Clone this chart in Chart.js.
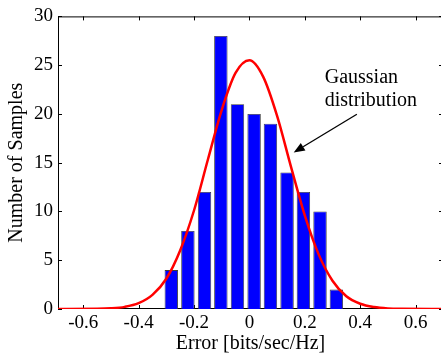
<!DOCTYPE html>
<html lang="en">
<head>
  <meta charset="UTF-8" />
  <title>Error histogram</title>
  <script src="https://cdn.jsdelivr.net/npm/chart.js"></script>
  <style>
    html, body { margin: 0; padding: 0; background: #fff; overflow: hidden; }
    #wrap { width: 441px; height: 356px; overflow: hidden; }
  </style>
</head>
<body>
  <div id="wrap">
    <canvas id="histChart" width="443" height="356"></canvas>
  </div>

  <script>
    // histogram bins (bin centres) and counts
    const binCentres = [-0.282, -0.222, -0.162, -0.103, -0.043, 0.017, 0.076, 0.136, 0.195, 0.255, 0.314];
    const counts     = [4, 8, 12, 28, 21, 20, 19, 14, 12, 10, 2];

    // fitted gaussian curve
    const curveX = [-0.7, -0.55, -0.5, -0.45, -0.4, -0.35, -0.3, -0.25, -0.2, -0.15, -0.1, -0.05, 0, 0.05, 0.1, 0.15, 0.2, 0.25, 0.3, 0.35, 0.4, 0.45, 0.5, 0.55, 0.7];
    const curveY = [0, 0.02, 0.07, 0.22, 0.6, 1.45, 3.1, 6.0, 10.1, 15.3, 20.4, 24.2, 25.5, 23.8, 19.8, 14.6, 9.6, 5.6, 2.9, 1.3, 0.54, 0.2, 0.06, 0.02, 0];

    const xTicks = [-0.6, -0.4, -0.2, 0, 0.2, 0.4, 0.6];
    const yTicks = [0, 5, 10, 15, 20, 25, 30];

    const serif = "'Liberation Serif', 'Times New Roman', serif";

    // MATLAB style box with inward ticks on all four sides
    const boxPlugin = {
      id: 'box',
      beforeDatasetsDraw(chart) {
        const { ctx, chartArea: a, scales: { x, y } } = chart;
        ctx.save();
        ctx.strokeStyle = '#000';
        ctx.lineWidth = 1;
        ctx.beginPath();
        ctx.rect(a.left + 0.5, a.top + 0.5, a.right - a.left - 1, a.bottom - a.top - 1);
        xTicks.forEach(v => {
          const px = Math.round(x.getPixelForValue(v)) + 0.5;
          ctx.moveTo(px, a.bottom); ctx.lineTo(px, a.bottom - 4);
          ctx.moveTo(px, a.top); ctx.lineTo(px, a.top + 4);
        });
        yTicks.forEach(v => {
          const py = Math.round(y.getPixelForValue(v)) + 0.5;
          ctx.moveTo(a.left, py); ctx.lineTo(a.left + 4, py);
          ctx.moveTo(a.right, py); ctx.lineTo(a.right - 4, py);
        });
        ctx.stroke();
        ctx.restore();
      },
      afterDraw(chart) {
        const { ctx, scales: { x, y } } = chart;
        ctx.save();
        ctx.fillStyle = '#000';
        ctx.font = "20px " + serif;
        ctx.textBaseline = 'alphabetic';
        ctx.fillText('Gaussian', x.getPixelForValue(0.272), y.getPixelForValue(23.15));
        ctx.fillText('distribution', x.getPixelForValue(0.272), y.getPixelForValue(20.8));

        // arrow
        const x0 = x.getPixelForValue(0.388), y0 = y.getPixelForValue(19.97);
        const x1 = x.getPixelForValue(0.16), y1 = y.getPixelForValue(16.05);
        const ang = Math.atan2(y1 - y0, x1 - x0);
        const head = 11, hw = 4.5;
        const bx = x1 - head * Math.cos(ang), by = y1 - head * Math.sin(ang);
        ctx.strokeStyle = '#000';
        ctx.lineWidth = 1.3;
        ctx.beginPath();
        ctx.moveTo(x0, y0); ctx.lineTo(bx, by);
        ctx.stroke();
        ctx.beginPath();
        ctx.moveTo(x1, y1);
        ctx.lineTo(bx + hw * Math.sin(ang), by - hw * Math.cos(ang));
        ctx.lineTo(bx - hw * Math.sin(ang), by + hw * Math.cos(ang));
        ctx.closePath();
        ctx.fill();
        ctx.restore();
      }
    };

    const ctx = document.getElementById('histChart').getContext('2d');
    new Chart(ctx, {
      data: {
        datasets: [
          {
            type: 'line',
            order: 0,
            data: curveX.map((v, i) => ({ x: v, y: curveY[i] })),
            borderColor: '#ff0000',
            borderWidth: 2.5,
            pointRadius: 0,
            cubicInterpolationMode: 'monotone',
            fill: false
          },
          {
            type: 'bar',
            order: 1,
            data: binCentres.map((v, i) => ({ x: v, y: counts[i] })),
            backgroundColor: '#0000ff',
            borderColor: '#3a3a3a',
            borderWidth: 0.9,
            barPercentage: 0.82,
            categoryPercentage: 1
          }
        ]
      },
      options: {
        responsive: false,
        animation: false,
        layout: { padding: { top: 10, right: 0, bottom: 0, left: 0 } },
        plugins: {
          legend: { display: false },
          tooltip: { enabled: false }
        },
        scales: {
          x: {
            type: 'linear',
            min: -0.691,
            max: 0.699,
            offset: false,
            grid: { display: false, drawTicks: false },
            border: { display: false },
            afterBuildTicks: s => { s.ticks = xTicks.map(v => ({ value: v })); },
            afterFit: s => { s.height = 47; },
            ticks: {
              color: '#000',
              padding: 3,
              maxRotation: 0,
              font: { family: serif, size: 19 },
              callback: v => String(v)
            },
            title: {
              display: true,
              text: 'Error [bits/sec/Hz]',
              color: '#000',
              font: { family: serif, size: 20 },
              padding: { top: 0, bottom: 0 }
            }
          },
          y: {
            min: 0,
            max: 30,
            grid: { display: false, drawTicks: false },
            border: { display: false },
            afterBuildTicks: s => { s.ticks = yTicks.map(v => ({ value: v })); },
            afterFit: s => { s.width = 58; },
            ticks: {
              color: '#000',
              padding: 5,
              font: { family: serif, size: 19 }
            },
            title: {
              display: true,
              text: 'Number of Samples',
              color: '#000',
              font: { family: serif, size: 20 },
              padding: { top: 5, bottom: 0 }
            }
          }
        }
      },
      plugins: [boxPlugin]
    });
  </script>
</body>
</html>
